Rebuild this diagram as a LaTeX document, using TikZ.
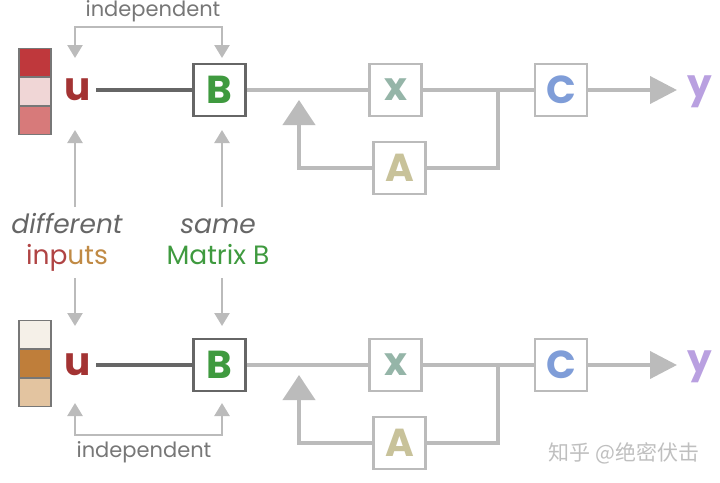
\documentclass[tikz,border=0pt]{standalone}
\usepackage{fontspec}
\setmainfont{Poppins}
\newfontfamily\cjk{Noto Sans CJK SC}
\usetikzlibrary{arrows.meta,calc}
\definecolor{lg}{HTML}{BBBBBB}
\definecolor{dg}{HTML}{666666}
\definecolor{tg}{HTML}{777777}
\definecolor{ured}{HTML}{A33333}
\definecolor{bgreen}{HTML}{3F9A3F}
\definecolor{xcol}{HTML}{95B5A8}
\definecolor{acol}{HTML}{C8C29A}
\definecolor{ccol}{HTML}{7F9DD8}
\definecolor{ycol}{HTML}{B9A0E0}
\definecolor{inred}{HTML}{B04444}
\definecolor{inor}{HTML}{C08A45}
\definecolor{ra}{HTML}{BF383C}
\definecolor{rb}{HTML}{F0D6D6}
\definecolor{rc}{HTML}{D77A7A}
\definecolor{oa}{HTML}{F5F0E8}
\definecolor{ob}{HTML}{BF7E3A}
\definecolor{oc}{HTML}{E3C4A0}
\begin{document}
\begin{tikzpicture}[x=1pt,y=-1pt,
  ltrfont/.style={font=\fontsize{39}{39}\selectfont\bfseries},
  box/.style={draw=lg, line width=2.5pt, minimum size=52pt, inner sep=0pt, fill=white, ltrfont},
  bbox/.style={draw=dg, line width=2.2pt, minimum size=52pt, inner sep=0pt, fill=white, ltrfont},
  ltr/.style={inner sep=0pt, ltrfont},
  cell/.style={draw=tg, line width=1.2pt, minimum width=32pt, minimum height=28.5pt, inner sep=0pt},
  main/.style={draw=lg, line width=4pt},
  dk/.style={draw=dg, line width=4.5pt},
  thinl/.style={draw=lg, line width=2.5pt},
  sarr/.style={-{Triangle[width=15pt,length=13pt]}},
  barr/.style={-{Triangle[width=32pt,length=25pt]}},
  oarr/.style={-{Triangle[width=27pt,length=27pt]}},
  lbl/.style={inner sep=0pt, font=\fontsize{21}{21}\selectfont, text=tg},
  mid/.style={inner sep=0pt, font=\fontsize{26.5}{31}\selectfont, align=center}
]
\useasboundingbox (0,0) rectangle (720,482);
% color bars
\node[cell, fill=ra] (c1a) at (35,62.5) {};
\node[cell, fill=rb] (c1b) at (35,91.5) {};
\node[cell, fill=rc] (c1c) at (35,120.5) {};
\node[cell, fill=oa] (c2a) at (35,334.5) {};
\node[cell, fill=ob] (c2b) at (35,363.5) {};
\node[cell, fill=oc] (c2c) at (35,392.5) {};

\foreach \r/\yy in {1/90,2/365}{
  \node[ltr, text=ured] (u\r) at (78,\yy) {u};
  \node[bbox, text=bgreen] (B\r) at (219.5,\yy) {B};
  \node[box, text=xcol] (x\r) at (395.5,\yy) {x};
  \node[box, text=acol] (A\r) at (399.5,\yy+78) {A};
  \node[box, text=ccol] (C\r) at (561,\yy) {C};
  \node[ltr, text=ycol] (y\r) at (700,\yy+2) {y};
  \coordinate (j\r) at (498,\yy);
  \coordinate (fb\r) at (299,\yy+10);
  \coordinate (yt\r) at (677,\yy);
  \draw[dk, shorten <=5pt] (u\r.east |- B\r.west) -- (B\r.west);
  \draw[main] (B\r.east) -- (x\r.west);
  \draw[main] (x\r.east) -- (C\r.west);
  \draw[main] (A\r.east) -| (j\r);
  \draw[main, barr] (A\r.west) -| (fb\r);
  \draw[main, oarr] (C\r.east) -- (yt\r);
}

% labels
\node[lbl] (ind1) at (153,11) {independent};
\node[lbl] (ind2) at (144,452) {independent};
\node[mid] (diff) at (67,242) {\textcolor{dg}{\itshape different}\\\textcolor{inred}{inp}\textcolor{inor}{uts}};
\node[mid] (same) at (218,242) {\textcolor{dg}{\itshape same}\\\textcolor{bgreen}{Matrix B}};

% brackets
\coordinate (ut1) at (75,58);
\coordinate (bt1) at (222,58);
\coordinate (ub2) at (75,403);
\coordinate (bb2) at (222,403);
\draw[thinl, {Triangle[width=15pt,length=13pt]}-{Triangle[width=15pt,length=13pt]}] (ut1) -- ++(0,-31) -| (bt1);
\draw[thinl, {Triangle[width=15pt,length=13pt]}-{Triangle[width=15pt,length=13pt]}] (ub2) -- ++(0,32) -| (bb2);

% vertical arrows
\coordinate (ud1) at (75,130);
\coordinate (bd1) at (222,130);
\coordinate (uu2) at (75,326);
\coordinate (bu2) at (222,326);
\draw[thinl, sarr] (75,207) -- (ud1);
\draw[thinl, sarr] (222,207) -- (bd1);
\draw[thinl, sarr] (75,278) -- (uu2);
\draw[thinl, sarr] (222,278) -- (bu2);

% watermark
\node[inner sep=0pt, font=\cjk\fontsize{21}{21}\selectfont, text=black!25] (wm) at (624,453) {知乎 @绝密伏击};
\end{tikzpicture}
\end{document}
